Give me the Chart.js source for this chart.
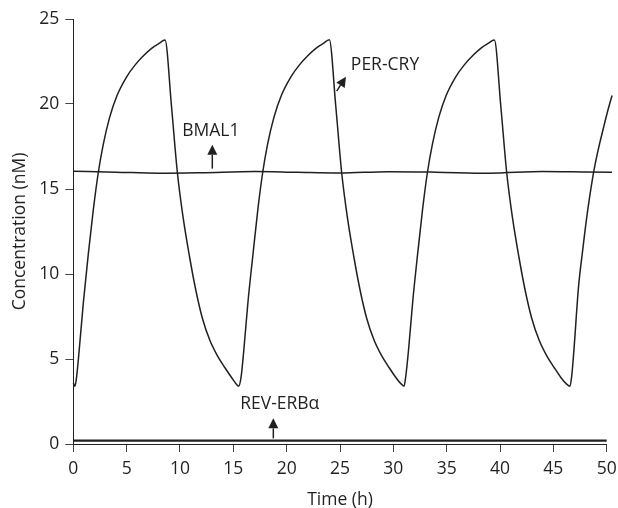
<!DOCTYPE html>
<html><head><meta charset="utf-8">
<script src="https://cdn.jsdelivr.net/npm/chart.js@4"></script>
<style>html,body{margin:0;padding:0;background:#fff}#wrap{width:618px;height:508px;position:relative}</style>
</head><body><div id="wrap"><canvas id="c" width="618" height="508"></canvas></div>
<script>
// ---- data ----
const perCryTime = [
  0, 0.15, 0.3, 0.55, 0.94, 1.41, 1.88, 2.35, 2.8, 3.4, 4.1, 5.0, 5.8, 6.6, 7.4, 8.0, 8.6,
  9.2, 9.75, 10.3, 10.9, 11.5, 12.1, 12.8, 13.5, 14.2, 14.85, 15.25, 15.5,
  15.72, 15.98, 16.38, 16.85, 17.3, 17.76, 18.2, 18.8, 19.5, 20.4, 21.2, 22.0, 22.8, 23.4, 24.0,
  24.6, 25.15, 25.7, 26.3, 26.9, 27.5, 28.2, 28.9, 29.6, 30.25, 30.7, 31.0,
  31.15, 31.42, 31.82, 32.28, 32.74, 33.2, 33.65, 34.25, 34.95, 35.85, 36.65, 37.45, 38.25, 38.85, 39.47,
  40.07, 40.62, 41.17, 41.77, 42.37, 42.97, 43.67, 44.37, 45.07, 45.72, 46.2, 46.56,
  46.72, 46.9, 47.36, 47.75, 48.1, 48.75, 49.2, 49.7, 50.1, 50.5
];
const perCryConc = [
  3.6, 3.4, 3.9, 5.5, 8.3, 11.2, 13.8, 16.0, 17.6, 19.2, 20.5, 21.6, 22.3, 22.85, 23.3, 23.55, 23.76,
  19.9, 16.0, 13.3, 11.0, 9.0, 7.4, 6.1, 5.2, 4.5, 3.9, 3.55, 3.4,
  3.9, 5.5, 8.4, 11.2, 13.8, 16.0, 17.6, 19.2, 20.5, 21.6, 22.3, 22.85, 23.3, 23.55, 23.78,
  19.9, 16.0, 13.3, 11.0, 9.0, 7.4, 6.1, 5.2, 4.5, 3.9, 3.55, 3.4,
  3.9, 5.5, 8.4, 11.2, 13.8, 16.0, 17.6, 19.2, 20.5, 21.6, 22.3, 22.85, 23.3, 23.55, 23.76,
  19.9, 16.0, 13.3, 11.0, 9.0, 7.4, 6.1, 5.2, 4.5, 3.9, 3.55, 3.4,
  4.0, 5.3, 9.25, 11.4, 13.2, 15.9, 17.3, 18.6, 19.6, 20.5
];
const bmal1Time = [0, 4, 8, 12, 17, 21, 25, 29.5, 34, 39, 44, 48, 50.5];
const bmal1Conc = [16.04, 15.99, 15.93, 15.96, 16.03, 15.98, 15.94, 16.02, 15.99, 15.93, 16.03, 16.0, 15.98];
const revErbTime = [0, 50];
const revErbConc = [0.2, 0.2];
const xTicks = [0, 5, 10, 15, 20, 25, 30, 35, 40, 45, 50];
const yTicks = [0, 5, 10, 15, 20, 25];
const seriesNames = ['PER-CRY', 'BMAL1', 'REV-ERB\u03b1'];

// annotation placement (data coordinates)
const notes = [
  {text: seriesNames[0], x: 29.22, y: 22.0, from: [24.69, 20.76], to: [25.56, 21.6]},
  {text: seriesNames[1], x: 12.89, y: 18.12, from: [13.03, 16.2], to: [13.03, 17.6]},
  {text: seriesNames[2], x: 19.35, y: 2.03, from: [18.75, 0.33], to: [18.75, 1.51]}
];

const INK = '#231f20';
const FONT = "'Open Sans', 'DejaVu Sans', sans-serif";
const pts = (t, v) => t.map((x, i) => ({x, y: v[i]}));

const notePlugin = {
  id: 'notes',
  afterDatasetsDraw(chart) {
    const {ctx, scales: {x, y}} = chart;
    ctx.save();
    ctx.fillStyle = INK; ctx.strokeStyle = INK;
    ctx.font = '17.5px ' + FONT;
    ctx.textAlign = 'center'; ctx.textBaseline = 'alphabetic';
    notes.forEach(n => {
      ctx.fillText(n.text, x.getPixelForValue(n.x), y.getPixelForValue(n.y));
      const x0 = x.getPixelForValue(n.from[0]), y0 = y.getPixelForValue(n.from[1]);
      const x1 = x.getPixelForValue(n.to[0]), y1 = y.getPixelForValue(n.to[1]);
      const ang = Math.atan2(y1 - y0, x1 - x0);
      const hl = 10, hw = 5;
      const bx = x1 - hl * Math.cos(ang), by = y1 - hl * Math.sin(ang);
      ctx.lineWidth = 1.5;
      ctx.beginPath(); ctx.moveTo(x0, y0); ctx.lineTo(bx, by); ctx.stroke();
      ctx.beginPath();
      ctx.moveTo(x1, y1);
      ctx.lineTo(bx + hw * Math.sin(ang), by - hw * Math.cos(ang));
      ctx.lineTo(bx - hw * Math.sin(ang), by + hw * Math.cos(ang));
      ctx.closePath(); ctx.fill();
    });
    ctx.restore();
  }
};

new Chart(document.getElementById('c'), {
  type: 'line',
  data: {
    datasets: [
      {label: seriesNames[0], data: pts(perCryTime, perCryConc), borderWidth: 1.5, borderColor: INK, cubicInterpolationMode: 'monotone'},
      {label: seriesNames[1], data: pts(bmal1Time, bmal1Conc), borderWidth: 1.5, borderColor: INK, cubicInterpolationMode: 'monotone'},
      {label: seriesNames[2], data: pts(revErbTime, revErbConc), borderWidth: 2.2, borderColor: INK, tension: 0}
    ]
  },
  options: {
    responsive: false,
    animation: false,
    devicePixelRatio: 1,
    layout: {padding: {left: 0, right: 11.3, top: 19, bottom: 0}},
    datasets: {line: {pointRadius: 0, fill: false, clip: false}},
    plugins: {legend: {display: false}, tooltip: {enabled: false}, colors: {enabled: false}},
    scales: {
      x: {
        type: 'linear', bounds: 'data',
        afterDataLimits: s => { s.min = 0; s.max = 50; },
        afterBuildTicks: s => { s.ticks = xTicks.map(v => ({value: v})); },
        afterFit: s => { s.height = 64; s.paddingLeft = 0; s.paddingRight = 0; },
        ticks: {stepSize: 5, color: INK, font: {family: FONT, size: 17.5}, padding: 7, maxRotation: 0, autoSkip: false},
        grid: {drawOnChartArea: false, drawTicks: true, tickLength: 8, color: '#444', lineWidth: 1},
        border: {display: true, color: INK, width: 1},
        title: {display: true, text: 'Time (h)', color: INK, font: {family: FONT, size: 17.5, lineHeight: 0.88}, padding: {top: 0, bottom: 0}}
      },
      y: {
        type: 'linear', min: 0, max: 25,
        afterBuildTicks: s => { s.ticks = yTicks.map(v => ({value: v})); },
        afterFit: s => { s.width = 73.3; s.paddingTop = 0; s.paddingBottom = 0; },
        ticks: {color: INK, font: {family: FONT, size: 17.5}, padding: 6},
        grid: {drawOnChartArea: false, drawTicks: true, tickLength: 8, color: '#444', lineWidth: 1},
        border: {display: true, color: INK, width: 1},
        title: {display: true, text: 'Concentration (nM)', color: INK, font: {family: FONT, size: 17.5, lineHeight: 1.2}, padding: {top: 10, bottom: 0}}
      }
    }
  },
  plugins: [notePlugin]
});
</script></body></html>
